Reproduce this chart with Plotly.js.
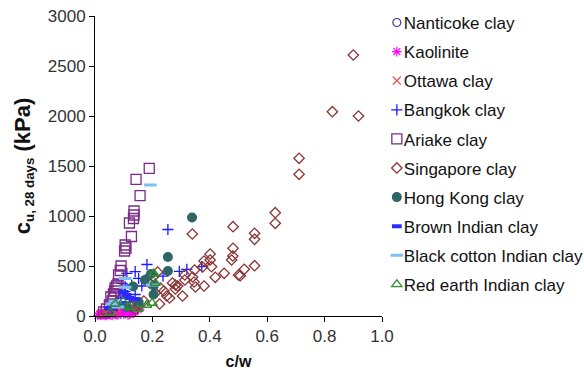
<!DOCTYPE html>
<html>
<head>
<meta charset="utf-8">
<script src="https://cdn.plot.ly/plotly-3.0.1.min.js"></script>
<style>
  html, body { margin: 0; padding: 0; background: #fff; }
  #chart { width: 584px; height: 380px; }
</style>
</head>
<body>
<div id="chart"></div>
<script>
// Undrained shear strength after 28 days of curing vs cement/water ratio

const nanticokeX = [0.02, 0.03, 0.04, 0.05, 0.06];
const nanticokeY = [10, 20, 15, 35, 40];

const kaoliniteX = [0.01, 0.02, 0.03, 0.04, 0.05, 0.06, 0.07, 0.08, 0.09, 0.10, 0.11, 0.12, 0.13, 0.14, 0.15, 0.03, 0.05, 0.07, 0.09, 0.11, 0.13, 0.04, 0.08, 0.12, 0.02, 0.06, 0.10, 0.14, 0.16, 0.015, 0.035, 0.055, 0.075, 0.095, 0.115, 0.135];
const kaoliniteY = [5, 8, 12, 15, 20, 25, 30, 35, 40, 50, 55, 60, 70, 75, 65, 25, 35, 50, 20, 30, 45, 5, 10, 15, 30, 5, 20, 40, 90, 20, 5, 10, 15, 70, 10, 25];

const ottawaX = [0.02, 0.04, 0.05, 0.07, 0.08];
const ottawaY = [15, 30, 20, 45, 60];

const bangkokX = [0.254, 0.181, 0.140, 0.152, 0.111, 0.320, 0.372, 0.294, 0.237, 0.094, 0.105, 0.128, 0.104, 0.140, 0.090, 0.120, 0.075, 0.060, 0.193, 0.163];
const bangkokY = [865, 515, 443, 377, 427, 467, 493, 447, 398, 327, 293, 310, 243, 215, 180, 140, 100, 60, 410, 300];

const ariakeX = [0.189, 0.143, 0.157, 0.136, 0.136, 0.134, 0.120, 0.127, 0.105, 0.108, 0.103, 0.091, 0.088, 0.082, 0.070, 0.068, 0.064, 0.055, 0.060, 0.050, 0.040, 0.030, 0.080, 0.075];
const ariakeY = [1477, 1367, 1203, 1050, 1010, 975, 930, 795, 710, 680, 650, 500, 455, 410, 280, 250, 220, 190, 150, 110, 70, 40, 320, 300];

const singaporeX = [0.900, 0.827, 0.918, 0.711, 0.711, 0.628, 0.628, 0.481, 0.556, 0.556, 0.481, 0.480, 0.476, 0.556, 0.520, 0.506, 0.450, 0.419, 0.401, 0.401, 0.406, 0.339, 0.347, 0.340, 0.345, 0.350, 0.380, 0.380, 0.313, 0.313, 0.288, 0.305, 0.250, 0.228, 0.225, 0.280, 0.280, 0.218, 0.500, 0.204, 0.190, 0.210, 0.240, 0.260, 0.170, 0.150, 0.126, 0.140, 0.270, 0.375];
const singaporeY = [2610, 2043, 2000, 1577, 1417, 1033, 927, 893, 827, 767, 677, 600, 560, 503, 467, 403, 427, 387, 620, 560, 493, 820, 460, 390, 340, 290, 300, 550, 410, 360, 300, 200, 200, 280, 120, 310, 270, 440, 410, 393, 330, 230, 250, 180, 150, 100, 93, 60, 330, 490];

const hongKongX = [0.338, 0.254, 0.254, 0.195, 0.174, 0.133, 0.205, 0.204, 0.152, 0.110];
const hongKongY = [985, 590, 450, 420, 360, 295, 305, 215, 140, 90];

const brownIndianX = [0.100, 0.110, 0.090, 0.070, 0.120, 0.050, 0.140];
const brownIndianY = [240, 210, 130, 100, 180, 80, 170];

const blackCottonX = [0.193, 0.105, 0.199, 0.105, 0.070, 0.060, 0.080];
const blackCottonY = [1310, 375, 310, 287, 150, 120, 90];

const redEarthX = [0.205, 0.199, 0.098, 0.070, 0.053, 0.120, 0.150, 0.180, 0.210];
const redEarthY = [425, 130, 143, 120, 35, 90, 70, 110, 330];

const xTicks = [0, 0.2, 0.4, 0.6, 0.8, 1.0];
const yTicks = [0, 500, 1000, 1500, 2000, 2500, 3000];

function series(name, x, y, marker, group) {
  return {
    type: 'scatter', mode: 'markers', name: name, x: x, y: y,
    marker: marker, legendgroup: group, cliponaxis: false
  };
}

const traces = [
  series('Nanticoke clay', nanticokeX, nanticokeY,
    {symbol: 'circle-open', size: 8, color: '#3a3aa0', line: {width: 1.2}}, 'g1'),
  series('Kaolinite', kaoliniteX, kaoliniteY,
    {symbol: 'asterisk-open', size: 8, color: '#ff00ff', line: {width: 1.2, color: '#ff00ff'}}, 'g2'),
  series('Ottawa clay', ottawaX, ottawaY,
    {symbol: 'x-thin-open', size: 8, color: '#e8413a', line: {width: 1.2, color: '#e8413a'}}, 'g3'),
  series('Bangkok clay', bangkokX, bangkokY,
    {symbol: 'cross-thin-open', size: 8, color: '#1a1aff', line: {width: 1.3, color: '#1a1aff'}}, 'g4'),
  series('Ariake clay', ariakeX, ariakeY,
    {symbol: 'square-open', size: 10, color: '#7a2a86', line: {width: 1.3}}, 'g5'),
  series('Singapore clay', singaporeX, singaporeY,
    {symbol: 'diamond-open', size: 8, color: '#8a3535', line: {width: 1.3}}, 'g6'),
  series('Hong Kong clay', hongKongX, hongKongY,
    {symbol: 'circle', size: 10, color: '#2f6565', line: {width: 0}}, 'g7'),
  series('Brown Indian clay', brownIndianX, brownIndianY,
    {symbol: 'line-ew-open', size: 7, color: '#2a2aff', line: {width: 4, color: '#2a2aff'}}, 'g8'),
  series('Black cotton Indian clay', blackCottonX, blackCottonY,
    {symbol: 'line-ew-open', size: 9, color: '#7cc0f5', line: {width: 3, color: '#7cc0f5'}}, 'g9'),
  series('Red earth Indian clay', redEarthX, redEarthY,
    {symbol: 'triangle-up-open', size: 9, color: '#2f8f2f', line: {width: 1.3}}, 'g10')
];

const fam = 'Liberation Sans, Arial, sans-serif';

const layout = {
  width: 584, height: 380,
  margin: {l: 95, r: 202, t: 16, b: 64, autoexpand: false},
  paper_bgcolor: '#fff', plot_bgcolor: '#fff',
  font: {family: fam, size: 16, color: '#222'},
  showlegend: true,
  legend: {
    xref: 'container', yref: 'container',
    x: 0.623, xanchor: 'left', y: 0.987, yanchor: 'top',
    bgcolor: 'rgba(0,0,0,0)', tracegroupgap: 4,
    font: {family: fam, size: 17, color: '#111'},
    itemwidth: 30, maxheight: 380
  },
  xaxis: {
    range: [0, 1.0], tickvals: xTicks, tickformat: '.1f',
    showgrid: false, zeroline: false,
    showline: true, linecolor: '#000', linewidth: 1,
    ticks: 'outside', ticklen: 5, tickcolor: '#000',
    tickfont: {family: fam, size: 17, color: '#333'},
    title: {text: '<b>c/w</b>', font: {family: fam, size: 16, color: '#111'}, standoff: 10}
  },
  yaxis: {
    range: [0, 3000], tickvals: yTicks,
    showgrid: false, zeroline: false,
    showline: true, linecolor: '#000', linewidth: 1,
    ticks: 'outside', ticklen: 5, tickcolor: '#000',
    tickfont: {family: fam, size: 17, color: '#333'},
    title: {
      text: '<b><span style="font-size:22px">c</span><sub>u, 28 days</sub><span style="font-size:22px"> (kPa)</span></b>',
      font: {family: fam, size: 19, color: '#111'}, standoff: 12
    }
  }
};

Plotly.newPlot('chart', traces, layout, {displayModeBar: false, staticPlot: true}).then(function (gd) {
  // tuck the legend symbols up against their labels
  gd.querySelectorAll('.legend .legendpoints').forEach(function (g) {
    g.setAttribute('transform', 'translate(13,0)');
  });
});
</script>
</body>
</html>
